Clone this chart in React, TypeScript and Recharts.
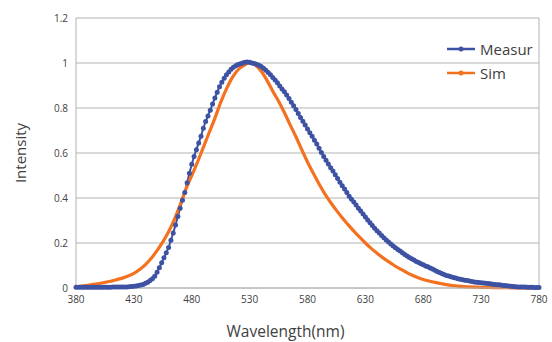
import React from 'react';
import { LineChart, Line, XAxis, YAxis, CartesianGrid, Label, ReferenceLine } from 'recharts';

// measured spectrum, 2 nm steps from 380 to 780
const measurWavelengths = Array.from({ length: 201 }, (_, i) => 380 + i * 2);
const measurValues = [
  0.003, 0.003, 0.003, 0.003, 0.003, 0.003, 0.003, 0.003, 0.003, 0.003,
  0.003, 0.003, 0.003, 0.003, 0.003, 0.003, 0.004, 0.004, 0.004, 0.004,
  0.004, 0.005, 0.005, 0.006, 0.007, 0.008, 0.009, 0.011, 0.013, 0.016,
  0.021, 0.026, 0.033, 0.041, 0.052, 0.07, 0.09, 0.112, 0.135, 0.157,
  0.18, 0.212, 0.245, 0.28, 0.318, 0.355, 0.39, 0.425, 0.468, 0.51,
  0.55, 0.585, 0.615, 0.645, 0.675, 0.71, 0.74, 0.765, 0.79, 0.818,
  0.845, 0.87, 0.895, 0.915, 0.932, 0.948, 0.96, 0.972, 0.981, 0.988,
  0.993, 0.997, 1.0, 1.003, 1.004, 1.003, 1.0, 0.998, 0.995, 0.99,
  0.984, 0.977, 0.968, 0.958, 0.948, 0.936, 0.924, 0.912, 0.898, 0.885,
  0.872, 0.858, 0.842, 0.826, 0.81, 0.793, 0.776, 0.758, 0.741, 0.724,
  0.707, 0.69, 0.674, 0.657, 0.64, 0.621, 0.602, 0.585, 0.568, 0.551,
  0.535, 0.52, 0.503, 0.487, 0.47, 0.455, 0.44, 0.424, 0.408, 0.395,
  0.382, 0.369, 0.355, 0.342, 0.329, 0.316, 0.302, 0.29, 0.278, 0.266,
  0.255, 0.244, 0.233, 0.223, 0.213, 0.204, 0.196, 0.187, 0.179, 0.171,
  0.164, 0.157, 0.149, 0.142, 0.136, 0.13, 0.124, 0.118, 0.113, 0.108,
  0.103, 0.098, 0.094, 0.089, 0.084, 0.079, 0.073, 0.069, 0.064, 0.06,
  0.056, 0.053, 0.05, 0.047, 0.044, 0.041, 0.039, 0.037, 0.035, 0.033,
  0.031, 0.029, 0.027, 0.026, 0.024, 0.023, 0.022, 0.021, 0.02, 0.019,
  0.017, 0.016, 0.015, 0.014, 0.012, 0.011, 0.01, 0.009, 0.008, 0.007,
  0.006, 0.005, 0.005, 0.004, 0.004, 0.003, 0.003, 0.003, 0.002, 0.002,
  0.002,
];

// simulated spectrum, 5 nm steps from 380 to 780
const simWavelengths = Array.from({ length: 81 }, (_, i) => 380 + i * 5);
const simValues = [
  0.005, 0.008, 0.012, 0.016, 0.02, 0.025, 0.03, 0.037, 0.044, 0.053,
  0.065, 0.082, 0.104, 0.132, 0.166, 0.205, 0.25, 0.305, 0.37, 0.44,
  0.5, 0.56, 0.625, 0.69, 0.755, 0.825, 0.885, 0.935, 0.97, 0.99,
  1.0, 0.99, 0.963, 0.923, 0.875, 0.83, 0.78, 0.725, 0.672, 0.615,
  0.56, 0.51, 0.462, 0.418, 0.38, 0.345, 0.312, 0.282, 0.253, 0.226,
  0.2, 0.176, 0.155, 0.135, 0.117, 0.1, 0.085, 0.071, 0.058, 0.047,
  0.038, 0.031, 0.025, 0.02, 0.015, 0.011, 0.008, 0.006, 0.005, 0.004,
  0.003, 0.003, 0.002, 0.002, 0.002, 0.001, 0.001, 0.001, 0.001, 0.001,
  0.001,
];

const xTicks = [380, 430, 480, 530, 580, 630, 680, 730, 780];
const yTicks = [0, 0.2, 0.4, 0.6, 0.8, 1, 1.2];

const measurData = measurWavelengths.map((w, i) => ({ wl: w, measur: measurValues[i] }));
const simData = simWavelengths.map((w, i) => ({ wl: w, sim: simValues[i] }));

const BLUE = '#3d52a3';
const ORANGE = '#f3711f';
const GRID = '#b3b3b3';
const TEXT = '#404040';
const FONT = '"Open Sans", sans-serif';

const legendItems = [
  { name: 'Measur', color: BLUE },
  { name: 'Sim', color: ORANGE },
];

const ChartLegend = () => (
  <div style={{ position: 'absolute', left: 446, top: 37, fontFamily: FONT, fontSize: 15, color: TEXT, lineHeight: '24px' }}>
    {legendItems.map((it) => (
      <div key={it.name} style={{ display: 'flex', alignItems: 'center', height: 24 }}>
        <svg width={30} height={10} style={{ marginRight: 4 }}>
          <line x1={1} y1={5} x2={29} y2={5} stroke={it.color} strokeWidth={2.5} />
          <circle cx={15} cy={5} r={2.5} fill={it.color} />
        </svg>
        <span>{it.name}</span>
      </div>
    ))}
  </div>
);

export default function App() {
  return (
    <div style={{ position: 'absolute', left: 0, top: 0, width: 552, height: 342, background: '#fff' }}>
      <LineChart width={552} height={342} margin={{ top: 18, right: 13, bottom: 0, left: 0 }}>
        <CartesianGrid vertical={false} stroke={GRID} />
        <XAxis
          dataKey="wl"
          type="number"
          domain={[380, 780]}
          ticks={xTicks}
          allowDuplicatedCategory={false}
          tickLine={false}
          axisLine={{ stroke: GRID }}
          height={54}
          tick={{ fontSize: 10, fill: TEXT, fontFamily: FONT }}
        >
          <Label value="Wavelength(nm)" position="insideBottom" offset={5} dx={-22} style={{ fontSize: 15.5, fill: TEXT, fontFamily: FONT }} />
        </XAxis>
        <YAxis
          type="number"
          domain={[0, 1.2]}
          ticks={yTicks}
          tickLine={false}
          axisLine={{ stroke: GRID }}
          width={76}
          tick={{ fontSize: 10, fill: TEXT, fontFamily: FONT }}
        >
          <Label value="Intensity" angle={-90} position="insideLeft" offset={21} style={{ fontSize: 15, fill: TEXT, fontFamily: FONT, textAnchor: 'middle' }} />
        </YAxis>
        <ReferenceLine x={780} stroke={GRID} />
        <Line
          data={measurData}
          dataKey="measur"
          name="Measur"
          stroke={BLUE}
          strokeWidth={2}
          dot={{ r: 2.5, fill: BLUE, stroke: 'none' }}
          isAnimationActive={false}
        />
        <Line
          data={simData}
          dataKey="sim"
          name="Sim"
          type="monotone"
          stroke={ORANGE}
          strokeWidth={3.2}
          dot={false}
          isAnimationActive={false}
        />
      </LineChart>
      <ChartLegend />
    </div>
  );
}
